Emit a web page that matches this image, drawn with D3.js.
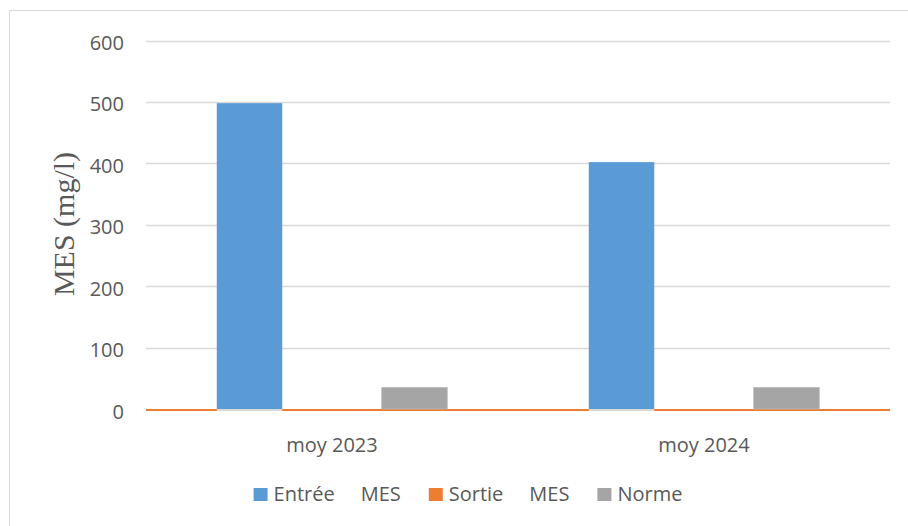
<!DOCTYPE html>
<html>
<head>
<meta charset="utf-8">
<script src="https://cdn.jsdelivr.net/npm/d3@7/dist/d3.min.js"></script>
<style>
  html, body { margin: 0; padding: 0; background: #fff; }
  svg { display: block; }
  text { font-family: "Open Sans", "Liberation Sans", sans-serif; fill: #595959; }
</style>
</head>
<body>
<svg id="chart" width="908" height="526"></svg>
<script>
// ---- data ----
const categories = ["moy 2023", "moy 2024"];
const seriesNames = ["Entrée     MES", "Sortie     MES", "Norme"];
const entreeValues = [498, 402];
const sortieValues = [0, 0];
const normeValues = [35, 35];
const yTicks = [0, 100, 200, 300, 400, 500, 600];
const yTitle = "MES (mg/l)";
const colors = ["#5b9bd5", "#ed7d31", "#a5a5a5"];

// ---- layout ----
const svg = d3.select("#chart");
const plot = { left: 146, right: 890, top: 40.5, bottom: 409 };

// chart frame (only left/top edges visible in the crop)
svg.append("rect")
  .attr("x", 9.5).attr("y", 10.5).attr("width", 1000).attr("height", 600)
  .attr("fill", "none").attr("stroke", "#d9d9d9").attr("stroke-width", 1);

const x = d3.scaleBand().domain(categories).range([plot.left, plot.right]).padding(0);
const xs = d3.scaleBand().domain(seriesNames).range([0, x.bandwidth()])
  .paddingInner(0.206).paddingOuter(0.858);
const y = d3.scaleLinear().domain([0, 600]).range([plot.bottom, plot.top]);

// gridlines
svg.append("g").selectAll("line").data(yTicks.filter(d => d > 0)).join("line")
  .attr("x1", plot.left).attr("x2", plot.right)
  .attr("y1", d => Math.round(y(d)) + 0.5).attr("y2", d => Math.round(y(d)) + 0.5)
  .attr("stroke", "#d9d9d9").attr("stroke-width", 1.3);

// y tick labels
svg.append("g").selectAll("text").data(yTicks).join("text")
  .attr("x", 124).attr("y", d => y(d) + 9.5)
  .attr("text-anchor", "end").attr("font-size", 20)
  .text(d => d);

// x axis line
svg.append("line")
  .attr("x1", plot.left).attr("x2", plot.right)
  .attr("y1", y(0) + 0.75).attr("y2", y(0) + 0.75)
  .attr("stroke", "#d9d9d9").attr("stroke-width", 1.5);

// Sortie series (area across the plot, sits on the baseline)
const sortiePts = [];
categories.forEach((c, i) => {
  sortiePts.push([x(c), sortieValues[i]]);
  sortiePts.push([x(c) + x.bandwidth(), sortieValues[i]]);
});
svg.append("path")
  .datum(sortiePts)
  .attr("fill", "none").attr("stroke", colors[1]).attr("stroke-width", 2)
  .attr("transform", "translate(0,1)")
  .attr("d", d3.line().x(d => d[0]).y(d => y(d[1])));

// Entrée bars
const eg = svg.append("g");
eg.selectAll("rect.bar").data(entreeValues).join("rect").attr("class", "bar")
  .attr("x", (d, i) => x(categories[i]) + xs(seriesNames[0]))
  .attr("width", xs.bandwidth())
  .attr("y", d => y(d)).attr("height", d => y(0) - y(d))
  .attr("fill", colors[0]);
// axis line shows beneath the Entrée bars
eg.selectAll("rect.under").data(entreeValues).join("rect").attr("class", "under")
  .attr("x", (d, i) => x(categories[i]) + xs(seriesNames[0]))
  .attr("width", xs.bandwidth())
  .attr("y", y(0)).attr("height", 2)
  .attr("fill", "#d9d9d9");

// Norme bars
svg.append("g").selectAll("rect").data(normeValues).join("rect")
  .attr("x", (d, i) => x(categories[i]) + xs(seriesNames[2]))
  .attr("width", xs.bandwidth())
  .attr("y", d => y(d)).attr("height", d => y(0) - y(d))
  .attr("fill", colors[2]).attr("stroke", "#b8b8b8").attr("stroke-width", 0.8);

// category labels
svg.append("g").selectAll("text").data(categories).join("text")
  .attr("x", d => x(d) + x.bandwidth() / 2).attr("y", 452)
  .attr("text-anchor", "middle").attr("font-size", 20)
  .text(d => d);

// y axis title
svg.append("text")
  .attr("transform", "translate(74,224) rotate(-90)")
  .attr("text-anchor", "middle")
  .attr("font-size", 30)
  .style("font-family", "'Liberation Serif', 'Times New Roman', serif")
  .text(yTitle);

// legend
const lg = svg.append("g");
const items = seriesNames.map((name, i) => {
  const g = lg.append("g");
  g.append("rect").attr("x", 0).attr("y", -13).attr("width", 14).attr("height", 13)
    .attr("fill", colors[i]);
  const t = g.append("text").attr("x", 20).attr("y", 0).attr("font-size", 20)
    .style("white-space", "pre").attr("xml:space", "preserve").text(name);
  return { g, w: 20 + t.node().getComputedTextLength() };
});
const gap = 28;
const total = d3.sum(items, d => d.w) + gap * (items.length - 1);
let cx = 468 - total / 2;
items.forEach(it => {
  it.g.attr("transform", `translate(${cx},501)`);
  cx += it.w + gap;
});
</script>
</body>
</html>
